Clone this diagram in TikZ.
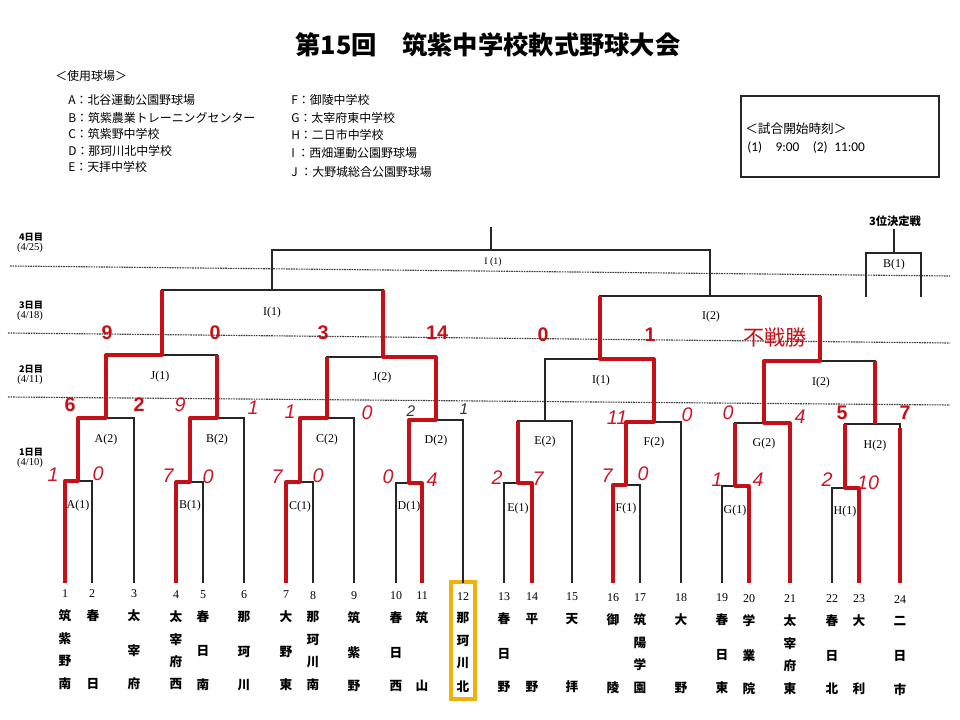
\documentclass[tikz,border=0pt]{standalone}
\usepackage{fontspec}
\setmainfont{Liberation Serif}
\setsansfont{Liberation Sans}
\newfontfamily\jp{Noto Sans CJK JP}
\newfontfamily\calib{Carlito}
\usetikzlibrary{positioning}

\definecolor{wred}{RGB}{196,16,22}
\definecolor{hand}{RGB}{204,22,40}
\definecolor{hl}{RGB}{240,178,10}

\begin{document}
\begin{tikzpicture}[x=0.025cm, y=-0.025cm,
    line/.style={draw=black!85, line width=0.75pt},
    win/.style={draw=wred, line width=2.3pt, line join=round},
    day/.style={draw=black!75, line width=0.8pt, dash pattern=on 1.2pt off 0.6pt},
    mlabel/.style={font=\fontsize{8.5}{9}\selectfont, inner sep=0pt},
    hand/.style={text=hand, font=\sffamily\itshape\fontsize{14}{14}\selectfont, inner sep=0pt},
    bscore/.style={text=wred, font=\sffamily\bfseries\fontsize{14}{14}\selectfont, inner sep=0pt},
    tname/.style={font=\jp\bfseries\fontsize{9}{9}\selectfont, inner sep=0pt},
    tnum/.style={font=\fontsize{8.5}{9}\selectfont, inner sep=0pt},
    legend/.style={font=\jp\fontsize{8.5}{8.5}\selectfont, anchor=west, inner sep=0pt},
    dayl/.style={font=\jp\bfseries\fontsize{6.5}{7}\selectfont, inner sep=0pt},
    daten/.style={font=\fontsize{7.5}{8}\selectfont, inner sep=0pt}
]
    \useasboundingbox (0,0) rectangle (960,720);

    % title and legend
    \node[font=\jp\bfseries\fontsize{18}{18}\selectfont] (title) at (488,45) {第15回　筑紫中学校軟式野球大会};
    \node[legend] (grounds) at (55,76) {＜使用球場＞};
    \node[legend] (gA) at (68,100) {A：北谷運動公園野球場};
    \node[legend] (gB) at (68,118) {B：筑紫農業トレーニングセンター};
    \node[legend] (gC) at (68,134) {C：筑紫野中学校};
    \node[legend] (gD) at (68,151) {D：那珂川北中学校};
    \node[legend] (gE) at (68,167) {E：天拝中学校};
    \node[legend] (gF) at (291,100) {F：御陵中学校};
    \node[legend] (gG) at (291,118) {G：太宰府東中学校};
    \node[legend] (gH) at (291,135) {H：二日市中学校};
    \node[legend] (gI) at (291,153) {I ：西畑運動公園野球場};
    \node[legend] (gJ) at (291,172) {J ：大野城総合公園野球場};

    % start times
    \draw[line] (741,96) rectangle (939,177);
    \node[legend, font=\jp\fontsize{9}{9}\selectfont] (start) at (745,129) {＜試合開始時刻＞};
    \node[legend, font=\calib\fontsize{9.5}{10}\selectfont] (times) at (747,148) {(1)\quad 9:00\quad (2)\enspace 11:00};

    % days
    \draw[day] (10,266) -- (950,276);
    \draw[day] (8,333) -- (950,343);
    \draw[day] (8,397) -- (950,405);
    \foreach \d/\dt/\y in {4/4\slash25/237, 3/4\slash18/305, 2/4\slash11/369, 1/4\slash10/452} {
        \node[dayl] (day\d) at (31,\y) {\d 日目};
        \node[daten] (date\d) at (30,\y+11) {(\dt)};
    }

    % teams
    \foreach \k/\x in {1/65, 2/92, 3/134, 4/176, 5/203, 6/244, 7/286, 8/313,
        9/354, 10/396, 11/422, 12/463, 13/504, 14/532, 15/572, 16/613,
        17/640, 18/681, 19/722, 20/749, 21/790, 22/832, 23/859, 24/900} {
        \coordinate (t\k) at (\x,583);
        \node[tnum] (n\k) at (\x,{593+0.007*\x}) {\k};
    }
    \foreach \k/\x/\a/\b in {2/93/春/日, 11/422/筑/山, 14/532/平/野, 15/572/天/拝,
        16/613/御/陵, 18/681/大/野, 23/859/大/利} {
        \node[tname] (c\k a) at (\x,{615+0.007*\x}) {\a};
        \node[tname] (c\k b) at (\x,{683+0.007*\x}) {\b};
    }
    \foreach \k/\x/\a/\b/\c in {3/134/太/宰/府, 5/203/春/日/南, 6/244/那/珂/川,
        7/286/大/野/東, 9/354/筑/紫/野, 10/396/春/日/西, 13/504/春/日/野,
        19/722/春/日/東, 20/749/学/業/院, 22/832/春/日/北, 24/900/二/日/市} {
        \node[tname] (c\k a) at (\x,{615+0.007*\x}) {\a};
        \node[tname] (c\k b) at (\x,{650+0.007*\x}) {\b};
        \node[tname] (c\k c) at (\x,{683+0.007*\x}) {\c};
    }
    \foreach \k/\x/\a/\b/\c/\d in {1/65/筑/紫/野/南, 4/176/太/宰/府/西,
        8/313/那/珂/川/南, 12/463/那/珂/川/北, 17/640/筑/陽/学/園, 21/790/太/宰/府/東} {
        \node[tname] (c\k a) at (\x,{615+0.007*\x}) {\a};
        \node[tname] (c\k b) at (\x,{638+0.007*\x}) {\b};
        \node[tname] (c\k c) at (\x,{660+0.007*\x}) {\c};
        \node[tname] (c\k d) at (\x,{683+0.007*\x}) {\d};
    }
    \draw[draw=hl, line width=2.2pt] (451,582) rectangle (475,699);

    % matches
    \coordinate (A1) at (78,481);  \coordinate (A2) at (106,418);
    \coordinate (B1) at (190,482); \coordinate (B2) at (217,418);
    \coordinate (C1) at (300,482); \coordinate (C2) at (327,418);
    \coordinate (D1) at (409,483); \coordinate (D2) at (436,420);
    \coordinate (E1) at (518,483); \coordinate (E2) at (545,421);
    \coordinate (F1) at (626,485); \coordinate (F2) at (654,422);
    \coordinate (G1) at (735,486); \coordinate (G2) at (764,423);
    \coordinate (H1) at (845,488); \coordinate (H2) at (875,424);
    \coordinate (J1) at (162,355); \coordinate (J2) at (383,357);
    \coordinate (K1) at (600,359); \coordinate (K2) at (820,361);
    \coordinate (S1) at (272,290); \coordinate (S2) at (710,296);
    \coordinate (fin) at (491,250); \coordinate (fintop) at (491,227);
    \coordinate (q1) at (866,297); \coordinate (q2) at (921,297);
    \coordinate (P3) at (894,253); \coordinate (P3top) at (894,229);

    \draw[line] (t1) |- (A1) -| (t2);
    \draw[line] (A1) |- (A2) -| (t3);
    \draw[line] (t4) |- (B1) -| (t5);
    \draw[line] (B1) |- (B2) -| (t6);
    \draw[line] (t7) |- (C1) -| (t8);
    \draw[line] (C1) |- (C2) -| (t9);
    \draw[line] (t10) |- (D1) -| (t11);
    \draw[line] (D1) |- (D2) -| (t12);
    \draw[line] (t13) |- (E1) -| (t14);
    \draw[line] (E1) |- (E2) -| (t15);
    \draw[line] (t16) |- (F1) -| (t17);
    \draw[line] (F1) |- (F2) -| (t18);
    \draw[line] (t19) |- (G1) -| (t20);
    \draw[line] (G1) |- (G2) -| (t21);
    \draw[line] (t22) |- (H1) -| (t23);
    \draw[line] (H1) |- (H2) -| (t24);
    \draw[line] (A2) |- (J1) -| (B2);
    \draw[line] (C2) |- (J2) -| (D2);
    \draw[line] (E2) |- (K1) -| (F2);
    \draw[line] (G2) |- (K2) -| (H2);
    \draw[line] (J1) |- (S1) -| (J2);
    \draw[line] (K1) |- (S2) -| (K2);
    \draw[line] (S1) |- (fin) -| (S2);
    \draw[line] (fin) -- (fintop);
    \draw[line] (q1) |- (P3) -| (q2);
    \draw[line] (P3) -- (P3top);

    % winners
    \draw[win] (t1) |- (A1) |- (A2) |- (J1) -- (J1 |- S1);
    \draw[win] (t4) |- (B1) |- (B2) -- (B2 |- J1);
    \draw[win] (t7) |- (C1) |- (C2) -- (C2 |- J2);
    \draw[win] (t11) |- (D1) |- (D2) |- (J2) -- (J2 |- S1);
    \draw[win] (t14) |- (E1) -- (E1 |- E2);
    \draw[win] (t16) |- (F1) |- (F2) |- (K1) -- (K1 |- S2);
    \draw[win] (t20) |- (G1) -- (G1 |- G2);
    \draw[win] (t21) |- (G2) |- (K2) -- (K2 |- S2);
    \draw[win] (t23) |- (H1) -- (H1 |- H2);
    \draw[win] (t24) -- ([yshift=-3]t24 |- H2);
    \draw[win] (H2) -- (H2 |- K2);

    % match labels
    \foreach \m/\x/\y in {A(1)/78/506, A(2)/106/440, B(1)/190/506, B(2)/217/440,
        C(1)/300/507, C(2)/327/440, D(1)/409/507, D(2)/436/441,
        E(1)/518/509, E(2)/545/442, F(1)/626/509, F(2)/654/443,
        G(1)/735/511, G(2)/764/444, H(1)/845/512, H(2)/875/446,
        J(1)/160/377, J(2)/382/378, I(1)/601/381, I(2)/821/383,
        I(1)/272/313, I(2)/711/317, B(1)/894/265} {
        \node[mlabel] (l\x) at (\x,\y) {\m};
    }
    \node[mlabel, font=\fontsize{7}{7}\selectfont] (lfin) at (493,262) {I (1)};
    \node[font=\jp\bfseries\fontsize{8}{8}\selectfont, inner sep=0pt] (third) at (895,221) {3位決定戦};

    % scores
    \foreach \s/\x/\y [count=\i] in {9/107/333, 0/215/333, 3/323/333, 14/437/333,
        0/543/335, 1/650/335, 6/70/405, 2/139/405, 5/842/413, 7/905/413} {
        \node[bscore] (b\i) at (\x,\y) {\s};
    }
    \foreach \s/\x/\y [count=\i] in {9/180/405, 1/253/408, 1/290/412, 0/367/413,
        11/617/418, 0/687/415, 0/728/413, 4/800/417,
        1/53/475, 0/98/474, 7/168/476, 0/208/477, 7/277/477, 0/318/476,
        0/388/477, 4/432/480, 2/497/478, 7/538/479, 7/607/476, 0/643/474,
        1/717/480, 4/758/480, 2/827/480, 10/868/483} {
        \node[hand] (h\i) at (\x,\y) {\s};
    }
    \node[hand, text=black!80, font=\sffamily\itshape\fontsize{11}{11}\selectfont] (hk1) at (411,411) {2};
    \node[hand, text=black!80, font=\sffamily\itshape\fontsize{11}{11}\selectfont] (hk2) at (464,409) {1};
    \node[text=wred, font=\jp\fontsize{15}{15}\selectfont, inner sep=0pt] (walk) at (775,337) {不戦勝};
\end{tikzpicture}
\end{document}
